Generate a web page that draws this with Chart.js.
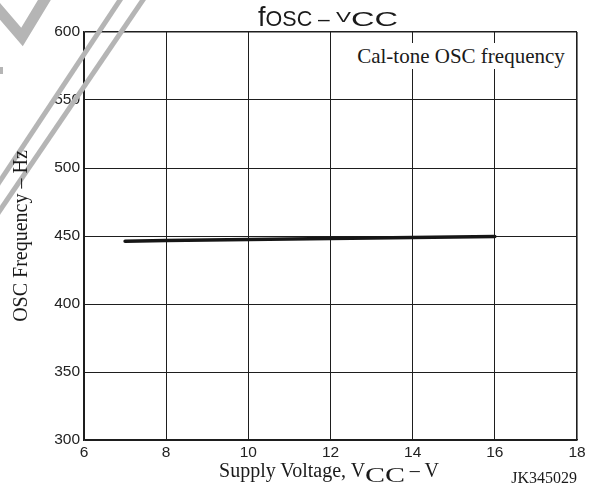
<!DOCTYPE html>
<html>
<head>
<meta charset="utf-8">
<title>fOSC - VCC</title>
<script src="https://cdn.jsdelivr.net/npm/chart.js@4.4.1/dist/chart.umd.min.js"></script>
<style>
  html, body { margin: 0; padding: 0; background: #fff; }
  #wrap { position: relative; width: 601px; height: 492px; overflow: hidden; }
  #wrap canvas { position: absolute; left: 0; top: 0; }
  .txt { position: absolute; white-space: nowrap; color: #1a1a1a; }
  .serif { font-family: "Liberation Serif", "Times New Roman", serif; }
  .sans { font-family: "Liberation Sans", Arial, sans-serif; }
  .wide { display: inline-block; transform: scaleX(1.5); transform-origin: left center; }
</style>
</head>
<body>
<div id="wrap">
  <canvas id="oscChart" width="601" height="492"></canvas>

  <div class="txt sans" id="mainTitle" style="left:128px;width:400px;top:4px;line-height:26px;text-align:center;">
    <span style="font-size:27px;">f</span><span style="font-size:21.5px;">OSC</span><span style="font-size:21px;"> &ndash; </span><span class="wide" style="font-size:15px;position:relative;top:-4px;margin-right:5px;">V</span><span class="wide" style="font-size:21px;transform:scaleX(1.55);margin-right:17px;">CC</span>
  </div>

  <div class="txt serif" id="curveLabel" style="left:350px;top:43px;width:222px;height:26px;line-height:26px;font-size:21px;text-align:center;background:#fff;">Cal-tone OSC frequency</div>

  <div class="txt serif" id="xTitle" style="left:129px;width:400px;top:460px;line-height:20px;font-size:20px;text-align:center;">
    Supply Voltage, V<span class="wide" style="position:relative;top:5px;margin-right:13px;">CC</span> &ndash; V
  </div>

  <div class="txt serif" id="yTitle" style="left:-130px;width:300px;top:224px;height:24px;line-height:24px;font-size:20px;text-align:center;transform:rotate(-90deg);">OSC Frequency &ndash; Hz</div>

  <div class="txt serif" id="figId" style="left:477px;width:100px;top:470px;line-height:16px;font-size:16px;text-align:right;">JK345029</div>
</div>

<script>
// supply voltage (V) and measured oscillator frequency (Hz)
const voltage = [7, 8, 10, 12, 14, 16];
const oscHz = [446.2, 446.6, 447.4, 448.2, 448.9, 449.6];

const xTickValues = [6, 8, 10, 12, 14, 16, 18];
const yTickValues = [300, 350, 400, 450, 500, 550, 600];

const gridColor = '#1e1e1e';
const tickFont = { family: 'Liberation Sans', size: 15.5 };

// grey stamp strokes in the top-left corner
const stampPlugin = {
    id: 'stamp',
    afterDraw(chart) {
        const c = chart.ctx;
        c.save();
        c.strokeStyle = '#b5b5b5';
        c.fillStyle = '#b5b5b5';
        c.lineCap = 'butt';

        c.lineWidth = 11;
        c.lineJoin = 'miter';
        c.beginPath();
        c.moveTo(-8, 2);
        c.lineTo(22, 37);
        c.lineTo(48, -6);
        c.stroke();

        c.lineWidth = 5;
        c.beginPath();
        c.moveTo(-10, 196);
        c.lineTo(126, -9);
        c.stroke();
        c.beginPath();
        c.moveTo(-10, 225);
        c.lineTo(149, -9);
        c.stroke();

        c.fillRect(0, 67, 3, 7);
        c.restore();
    }
};

function edgeWidth(max) {
    return ctx => (ctx.tick && ctx.tick.value === max ? 1.6 : 1);
}

function initChart() {
    const canvas = document.getElementById('oscChart');
    new Chart(canvas, {
        type: 'line',
        data: {
            datasets: [{
                label: 'Cal-tone OSC frequency',
                data: voltage.map((v, i) => ({ x: v, y: oscHz[i] })),
                borderColor: '#161616',
                borderWidth: 3.5,
                borderCapStyle: 'round',
                pointRadius: 0,
                tension: 0,
                fill: false
            }]
        },
        options: {
            responsive: false,
            animation: false,
            events: [],
            layout: { padding: { left: 44, right: 24, top: 32, bottom: 0 } },
            plugins: {
                legend: { display: false },
                tooltip: { enabled: false },
                title: { display: false }
            },
            scales: {
                x: {
                    type: 'linear',
                    min: 6,
                    max: 18,
                    afterBuildTicks: s => { s.ticks = xTickValues.map(v => ({ value: v })); },
                    afterFit: s => { s.height = 52; },
                    grid: { color: gridColor, lineWidth: edgeWidth(18), drawTicks: false },
                    border: { color: gridColor, width: 1.6 },
                    ticks: { color: '#222', font: tickFont, padding: 3, maxRotation: 0 }
                },
                y: {
                    type: 'linear',
                    min: 300,
                    max: 600,
                    afterBuildTicks: s => { s.ticks = yTickValues.map(v => ({ value: v })); },
                    afterFit: s => { s.width = 40; },
                    grid: { color: gridColor, lineWidth: edgeWidth(600), drawTicks: false },
                    border: { color: gridColor, width: 1.6 },
                    ticks: { color: '#222', font: tickFont, padding: 4 }
                }
            }
        },
        plugins: [stampPlugin]
    });
}

document.addEventListener('DOMContentLoaded', initChart);
</script>
</body>
</html>
